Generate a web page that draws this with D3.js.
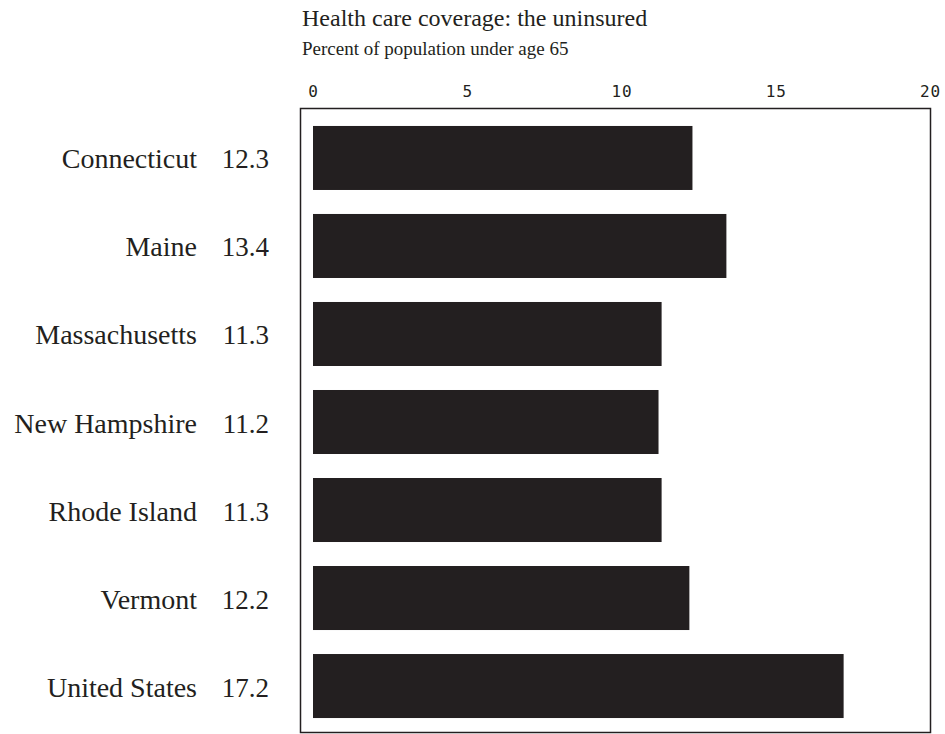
<!DOCTYPE html>
<html>
<head>
<meta charset="utf-8">
<script src="https://cdn.jsdelivr.net/npm/d3@7"></script>
<style>
  html, body { margin: 0; padding: 0; background: #fff; }
  svg { display: block; }
</style>
</head>
<body>
<script>
const categories = ["Connecticut", "Maine", "Massachusetts", "New Hampshire", "Rhode Island", "Vermont", "United States"];
const values = [12.3, 13.4, 11.3, 11.2, 11.3, 12.2, 17.2];
const tickValues = [0, 5, 10, 15, 20];
const title = "Health care coverage: the uninsured";
const subtitle = "Percent of population under age 65";

const W = 945, H = 734;
const ink = "#231f20";
const serif = "'Liberation Serif', 'Times New Roman', serif";
const svg = d3.select("body").append("svg").attr("width", W).attr("height", H);

const x = d3.scaleLinear().domain([0, 20]).range([313, 930]);
const y = d3.scaleBand().domain(categories).range([114, 730]).paddingInner(0.2727).paddingOuter(0.136);

// frame
svg.append("rect")
  .attr("x", 300.5).attr("y", 108.5)
  .attr("width", 630).attr("height", 624)
  .attr("fill", "none").attr("stroke", ink).attr("stroke-width", 1.5);

// title
svg.append("text").attr("x", 302).attr("y", 26)
  .attr("font-family", serif)
  .attr("font-size", 24).attr("fill", ink).text(title);
svg.append("text").attr("x", 302).attr("y", 55)
  .attr("font-family", serif)
  .attr("font-size", 19).attr("fill", ink).text(subtitle);

// top axis
const axis = d3.axisTop(x).tickValues(tickValues).tickSize(0).tickPadding(0).tickFormat(d3.format("d"));
const ag = svg.append("g").attr("transform", "translate(0,97)").call(axis);
ag.select(".domain").remove();
ag.selectAll("text")
  .attr("font-family", "'DejaVu Sans Mono', 'Liberation Mono', monospace")
  .attr("font-size", 16).attr("fill", ink).attr("dy", 0)
  .style("letter-spacing", "1px");

// bars
svg.append("g").selectAll("rect").data(categories).join("rect")
  .attr("x", x(0))
  .attr("y", d => y(d))
  .attr("width", (d, i) => x(values[i]) - x(0))
  .attr("height", y.bandwidth())
  .attr("fill", ink);

// labels
const lg = svg.append("g")
  .attr("font-family", serif)
  .attr("fill", ink);
lg.selectAll("text.name").data(categories).join("text")
  .attr("class", "name")
  .attr("x", 197)
  .attr("y", d => y(d) + y.bandwidth() / 2 + 10.5)
  .attr("font-size", 28)
  .attr("text-anchor", "end")
  .text(d => d);
lg.selectAll("text.val").data(categories).join("text")
  .attr("class", "val")
  .attr("x", 269)
  .attr("y", d => y(d) + y.bandwidth() / 2 + 10.5)
  .attr("font-size", 27)
  .attr("text-anchor", "end")
  .text((d, i) => values[i].toFixed(1));
</script>
</body>
</html>
